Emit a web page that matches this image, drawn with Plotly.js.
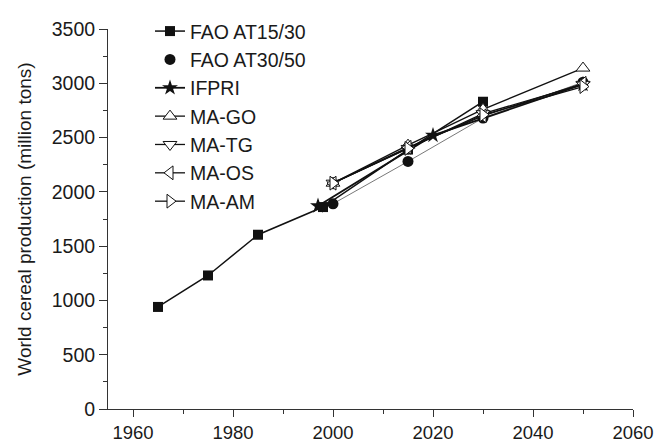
<!DOCTYPE html>
<html><head><meta charset="utf-8">
<script src="https://cdn.plot.ly/plotly-3.0.1.min.js"></script>
<style>body{margin:0;background:#fff}#c{width:660px;height:445px}</style>
</head><body><div id="c"></div>
<script>
const faoA_x = [1965, 1975, 1985, 1998, 2015, 2030];
const faoA_y = [940, 1230, 1605, 1860, 2390, 2830];
const faoB_x = [2000, 2015, 2030, 2050];
const faoB_y = [1890, 2280, 2680, 3010];
const ifpri_x = [1997, 2020, 2050];
const ifpri_y = [1870, 2520, 2990];
const ma_x = [2000, 2015, 2030, 2050];
const maGO_y = [2080, 2430, 2760, 3140];
const maTG_y = [2080, 2400, 2720, 2990];
const maOS_y = [2080, 2410, 2700, 3000];
const maAM_y = [2080, 2400, 2710, 2970];

const font = {family: 'Liberation Sans, Arial, sans-serif', size: 19.5, color: '#1a1a1a'};
const xFont = {family: 'Liberation Sans, Arial, sans-serif', size: 18.5, color: '#1a1a1a'};
const titleFont = {family: 'Liberation Sans, Arial, sans-serif', size: 19, color: '#1a1a1a'};
const lineC = '#111';
function openSym(sym){return {symbol: sym, size: 12, color: '#fff', line: {color: lineC, width: 1}};}

const traces = [
  {name: 'FAO AT15/30', x: faoA_x, y: faoA_y, mode: 'lines+markers', line: {color: lineC, width: 1.5},
   marker: {symbol: 'square', size: 10, color: lineC}},
  {name: 'FAO AT30/50 line', x: faoB_x, y: faoB_y, mode: 'lines', line: {color: '#555', width: 0.8}, showlegend: false},
  {name: 'FAO AT30/50', x: faoB_x, y: faoB_y, mode: 'markers', marker: {symbol: 'circle', size: 11, color: lineC}},
  {name: 'IFPRI', x: ifpri_x, y: ifpri_y, mode: 'lines+markers', line: {color: lineC, width: 1.8},
   marker: {symbol: 'star', size: 12, color: lineC}},
  {name: 'MA-GO', x: ma_x, y: maGO_y, mode: 'lines+markers', line: {color: lineC, width: 1.3}, marker: openSym('triangle-up')},
  {name: 'MA-TG', x: ma_x, y: maTG_y, mode: 'lines+markers', line: {color: lineC, width: 1.3}, marker: openSym('triangle-down')},
  {name: 'MA-OS', x: ma_x, y: maOS_y, mode: 'lines+markers', line: {color: lineC, width: 1.3}, marker: openSym('triangle-left')},
  {name: 'MA-AM', x: ma_x, y: maAM_y, mode: 'lines+markers', line: {color: lineC, width: 1.3}, marker: openSym('triangle-right')}
];

const layout = {
  width: 660, height: 445,
  margin: {l: 108, r: 27, t: 22, b: 36},
  paper_bgcolor: '#fff', plot_bgcolor: '#fff',
  font: font,
  showlegend: true,
  legend: {x: 0.08, y: 1.045, xanchor: 'left', yanchor: 'top', bgcolor: 'rgba(0,0,0,0)', font: font, tracegroupgap: 0},
  xaxis: {range: [1955, 2060], dtick: 20, tick0: 1960, showgrid: false, zeroline: false,
    showline: true, linecolor: '#333', linewidth: 1, ticks: 'outside', ticklen: 7, tickcolor: '#333',
    minor: {dtick: 10, tick0: 1960, ticks: 'outside', ticklen: 4, tickcolor: '#333', showgrid: false},
    tickfont: xFont},
  yaxis: {range: [0, 3500], dtick: 500, showgrid: false, zeroline: false,
    showline: true, linecolor: '#333', linewidth: 1, ticks: 'outside', ticklen: 8, tickcolor: '#333',
    minor: {dtick: 250, ticks: 'outside', ticklen: 4, tickcolor: '#333', showgrid: false},
    tickfont: font,
    title: {text: 'World cereal production (million tons)', font: titleFont, standoff: 15}}
};
Plotly.newPlot('c', traces, layout, {displayModeBar: false, staticPlot: true});
</script></body></html>
